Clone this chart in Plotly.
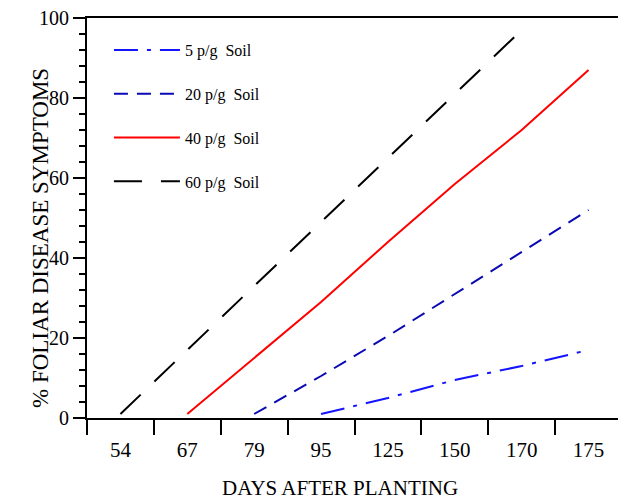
import plotly.graph_objects as go

days = ["54", "67", "79", "95", "125", "150", "170", "175"]

x_5 = ["95", "125", "150", "170", "175"]
y_5 = [1, 5, 9.5, 13, 17]

x_20 = ["79", "95", "125", "150", "170", "175"]
y_20 = [1, 10.5, 20.5, 31, 41.5, 52]

x_40 = ["67", "79", "95", "125", "150", "170", "175"]
y_40 = [1, 15, 29, 44, 58.5, 72, 87]

x_60 = ["54", "67", "79", "95", "125", "150", "170"]
y_60 = [1, 17, 33, 49, 65, 81, 97]

names = ["5 p/g\u00a0\u00a0Soil", "20 p/g\u00a0\u00a0Soil", "40 p/g\u00a0\u00a0Soil", "60 p/g\u00a0\u00a0Soil"]
x_title = "DAYS AFTER PLANTING"
y_title = "% FOLIAR DISEASE SYMPTOMS"
FONT = "Liberation Serif, Times New Roman, serif"

fig = go.Figure()
series = [
    (x_5, y_5, names[0], "#1414ff", "24px,9px,4px,9px"),
    (x_20, y_20, names[1], "#0a0ab4", "14px,9px"),
    (x_40, y_40, names[2], "#ff0000", "solid"),
    (x_60, y_60, names[3], "#000000", "28px,19px"),
]
for i, (xs, ys, nm, col, dash) in enumerate(series):
    fig.add_trace(go.Scatter(
        x=xs, y=ys, name=nm, mode="lines", legendgroup=str(i),
        line=dict(color=col, width=2, dash=dash),
    ))

# page has an 8px body margin; margins compensate so the plot area sits at x 87-622, y 18-418
fig.update_layout(
    width=626, height=502,
    margin=dict(l=79, r=12, t=10, b=92, autoexpand=False),
    paper_bgcolor="white", plot_bgcolor="white",
    font=dict(family=FONT, color="black"),
    showlegend=True,
    legend=dict(
        x=0.041, y=0.9625, xanchor="left", yanchor="top",
        bgcolor="rgba(0,0,0,0)", font=dict(size=16, family=FONT),
        tracegroupgap=20, itemwidth=66, traceorder="grouped",
    ),
    xaxis=dict(
        type="category", categoryorder="array", categoryarray=days,
        range=[-0.5, 7.5], tickson="boundaries", automargin=False,
        ticks="outside", ticklen=15, tickwidth=2, tickcolor="black",
        ticklabelstandoff=12, ticklabeloverflow="allow",
        showline=True, linewidth=2, linecolor="black", mirror=True,
        showgrid=False, zeroline=False,
        tickfont=dict(size=21, family=FONT),
    ),
    yaxis=dict(
        range=[0, 100], tickvals=[0, 20, 40, 60, 80, 100], automargin=False,
        ticks="outside", ticklen=12, tickwidth=2, tickcolor="black",
        ticklabeloverflow="allow",
        minor=dict(dtick=4, ticks="outside", ticklen=6, tickwidth=2, tickcolor="black", showgrid=False),
        showline=True, linewidth=2, linecolor="black", mirror=True,
        showgrid=False, zeroline=False,
        tickfont=dict(size=20, family=FONT),
    ),
    annotations=[
        dict(text=x_title, xref="paper", yref="paper", x=(340 - 87) / 535, y=-(488 - 418) / 400,
             xanchor="center", yanchor="middle", showarrow=False, font=dict(size=21, family=FONT)),
        dict(text=y_title, xref="paper", yref="paper", x=-(87 - 40) / 535, y=(418 - 238) / 400,
             xanchor="center", yanchor="middle", textangle=-90, showarrow=False, font=dict(size=23, family=FONT)),
    ],
)

fig.write_html("out.html")
